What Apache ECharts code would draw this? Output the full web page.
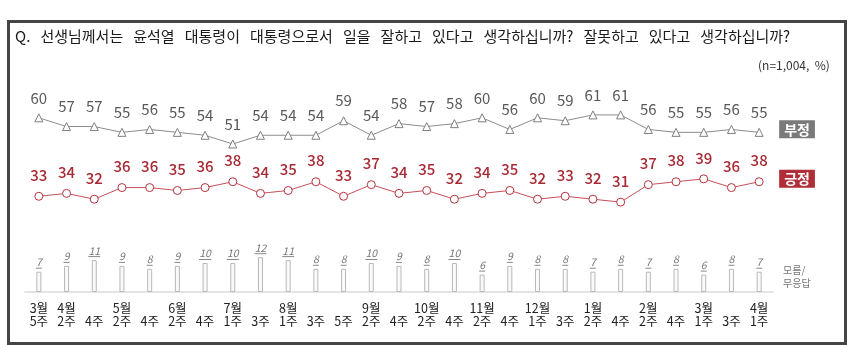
<!DOCTYPE html>
<html>
<head>
<meta charset="utf-8">
<script src="https://cdn.jsdelivr.net/npm/echarts@6/dist/echarts.min.js"></script>
<style>
  html, body { margin: 0; padding: 0; background: #ffffff; }
  #chart { width: 856px; height: 345px; }
</style>
</head>
<body>
<div id="chart"></div>
<script>
// Survey weeks: month row and week row
const monthLabels = ['3월', '4월', '', '5월', '', '6월', '', '7월', '', '8월', '', '', '9월', '',
  '10월', '', '11월', '', '12월', '', '1월', '', '2월', '', '3월', '', '4월'];
const weekLabels = ['5주', '2주', '4주', '2주', '4주', '2주', '4주', '1주', '3주', '1주', '3주', '5주', '2주', '4주',
  '2주', '4주', '2주', '4주', '1주', '3주', '2주', '4주', '2주', '4주', '1주', '3주', '1주'];

// 부정 (negative), 긍정 (positive), 모름/무응답 (don't know / no answer), in %
const negative = [60, 57, 57, 55, 56, 55, 54, 51, 54, 54, 54, 59, 54, 58, 57, 58, 60, 56, 60, 59, 61, 61, 56, 55, 55, 56, 55];
const positive = [33, 34, 32, 36, 36, 35, 36, 38, 34, 35, 38, 33, 37, 34, 35, 32, 34, 35, 32, 33, 32, 31, 37, 38, 39, 36, 38];
const unknown = [7, 9, 11, 9, 8, 9, 10, 10, 12, 11, 8, 8, 10, 9, 8, 10, 6, 9, 8, 8, 7, 8, 7, 8, 6, 8, 7];

const categories = monthLabels.map((m, i) => m + '\n' + weekLabels[i]);

const FONT = '"Noto Sans CJK KR", "Noto Sans", sans-serif';
const question = ['Q.', '선생님께서는', '윤석열', '대통령이', '대통령으로서', '일을', '잘하고', '있다고',
  '생각하십니까?', '잘못하고', '있다고', '생각하십니까?'];

const chart = echarts.init(document.getElementById('chart'), null, { renderer: 'canvas' });

const option = {
  backgroundColor: '#ffffff',
  animation: false,
  textStyle: { fontFamily: FONT },
  graphic: [
    {
      type: 'rect', left: 6, top: 19,
      shape: { width: 837, height: 322 },
      style: { fill: 'none', stroke: '#454545', lineWidth: 3 }
    },
    {
      type: 'text', left: 15, top: 29,
      style: {
        // wider word gaps for the question line
        text: question.join('   '),
        font: '15px ' + FONT, fill: '#1a1a1a'
      }
    },
    {
      type: 'text', left: 758, top: 59,
      style: { text: '(n=1,004,  %)', font: '12px ' + FONT, fill: '#333333' }
    },
    {
      type: 'text', left: 783, top: 264,
      style: { text: '모름/\n무응답', font: '10px ' + FONT, fill: '#777777', lineHeight: 13 }
    }
  ],
  grid: [
    { left: 25, width: 748, top: 112, height: 93 },
    { left: 25, width: 748, top: 234, height: 58 }
  ],
  xAxis: [
    {
      type: 'category', gridIndex: 0, data: categories, boundaryGap: true,
      axisLine: { show: false }, axisTick: { show: false }, axisLabel: { show: false }
    },
    {
      type: 'category', gridIndex: 1, data: categories, boundaryGap: true,
      axisLine: { show: true, lineStyle: { color: '#e4e4e4', width: 2 } },
      axisTick: { show: false },
      axisLabel: {
        interval: 0, color: '#222222', fontSize: 12.5, lineHeight: 13.5, margin: 9,
        fontFamily: FONT
      }
    }
  ],
  yAxis: [
    { type: 'value', gridIndex: 0, min: 30, max: 62, show: false },
    { type: 'value', gridIndex: 1, min: 0, max: 20, show: false }
  ],
  series: [
    {
      name: '부정', type: 'line', xAxisIndex: 0, yAxisIndex: 0, data: negative,
      symbol: 'triangle', symbolSize: 8,
      lineStyle: { color: '#8c8c8c', width: 1 },
      itemStyle: { color: '#ffffff', borderColor: '#7f7f7f', borderWidth: 1 },
      label: {
        show: true, position: 'top', distance: 8, color: '#595959', fontSize: 15,
        fontFamily: FONT
      },
      endLabel: {
        show: true, formatter: '{a}', distance: 20, offset: [0, -3],
        backgroundColor: '#7a7a7a', color: '#ffffff', fontSize: 14, fontWeight: 'bold',
        padding: [2, 5, 2, 5], lineHeight: 14, fontFamily: FONT
      }
    },
    {
      name: '긍정', type: 'line', xAxisIndex: 0, yAxisIndex: 0, data: positive,
      symbol: 'circle', symbolSize: 8,
      lineStyle: { color: '#c4505a', width: 1 },
      itemStyle: { color: '#ffffff', borderColor: '#b3323c', borderWidth: 1 },
      label: {
        show: true, position: 'top', distance: 9, color: '#a82a34', fontSize: 15,
        fontWeight: 500, fontFamily: FONT
      },
      endLabel: {
        show: true, formatter: '{a}', distance: 20, offset: [0, -3],
        backgroundColor: '#b02e38', color: '#ffffff', fontSize: 14, fontWeight: 'bold',
        padding: [2, 5, 2, 5], lineHeight: 14, fontFamily: FONT
      }
    },
    {
      name: '모름/무응답', type: 'bar', xAxisIndex: 1, yAxisIndex: 1, data: unknown,
      barWidth: 5,
      itemStyle: { color: '#fafafa', borderColor: '#b8b8b8', borderWidth: 1 },
      label: {
        show: true, position: 'top', distance: 3,
        formatter: p => '{n|' + p.value + '}\n{' + (String(p.value).length > 1 ? 'u2' : 'u1') + '|}',
        rich: {
          n: { fontSize: 10.5, fontStyle: 'italic', color: '#777777', fontFamily: FONT, lineHeight: 11 },
          u1: { width: 6, height: 1, lineHeight: 1, backgroundColor: '#888888' },
          u2: { width: 12, height: 1, lineHeight: 1, backgroundColor: '#888888' }
        }
      }
    }
  ]
};

chart.setOption(option);
</script>
</body>
</html>
